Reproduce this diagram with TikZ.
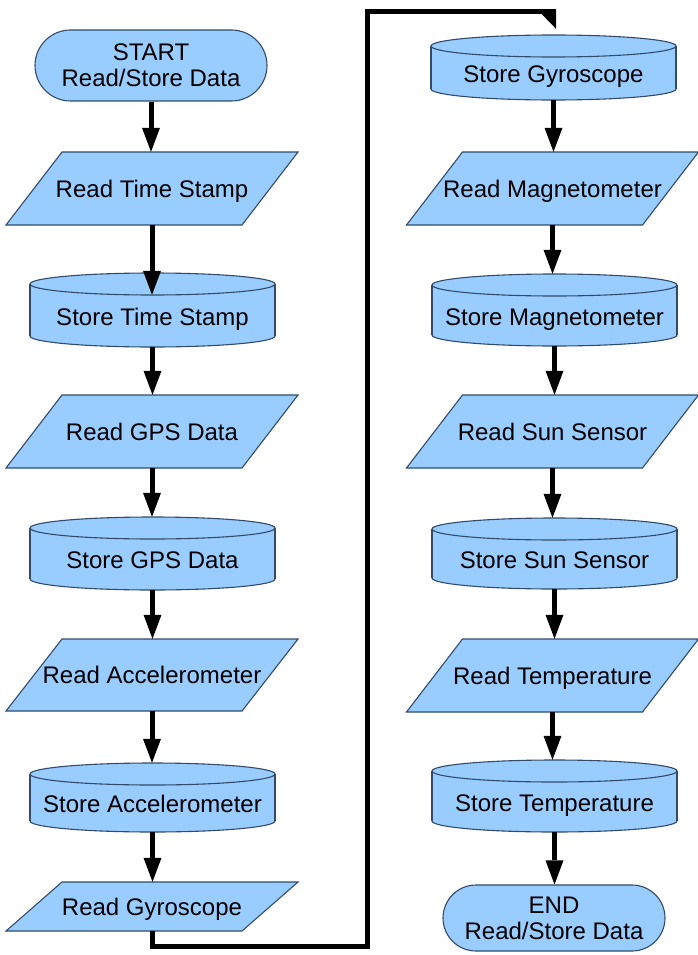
\documentclass[tikz,border=0pt]{standalone}
\usepackage{fontspec}
\setmainfont{Liberation Sans}
\usetikzlibrary{arrows.meta,shapes.misc}

\definecolor{boxfill}{RGB}{153,204,255}
\definecolor{boxline}{RGB}{50,75,105}

\tikzset{
  shapeline/.style={draw=boxline, fill=boxfill, line width=1.1pt},
  labeltext/.style={inner sep=0pt, text=black, font=\fontsize{24}{26}\selectfont},
  readtext/.style={labeltext, text height=17pt, text depth=0pt},
  storetext/.style={labeltext, text height=30pt, text depth=0pt},
  terminal/.style={rounded rectangle, shapeline, labeltext, align=center},
  arr/.style={line width=5pt, -{Triangle[width=18pt,length=24pt,line width=0pt]}},
  loopline/.style={line width=5pt}
}

% Input/output step: parallelogram 236pt wide with a 56pt slant
% #1 name, #2 centre x, #3 centre y, #4 height, #5 text
\newcommand\ioshape[5]{%
  \filldraw[shapeline] ({#2-90},{#3-#4/2}) -- ({#2+146},{#3-#4/2})
    -- ({#2+90},{#3+#4/2}) -- ({#2-146},{#3+#4/2}) -- cycle;
  \node[readtext, minimum width=236pt, minimum height=#4pt] (#1) at (#2,#3) {#5};}

% Storage step: upright cylinder 245pt wide
% #1 name, #2 centre x, #3 top y, #4 bottom y, #5 text
\newcommand\storeshape[5]{%
  \filldraw[shapeline] (#2,{#4-11}) ellipse [x radius=122.5pt, y radius=11pt];
  \fill[boxfill] ({#2-122.5},{#3+11}) rectangle ({#2+122.5},{#4-11});
  \draw[shapeline, fill=none] ({#2-122.5},{#3+11}) -- ({#2-122.5},{#4-11})
    ({#2+122.5},{#3+11}) -- ({#2+122.5},{#4-11});
  \filldraw[shapeline] (#2,{#3+11}) ellipse [x radius=122.5pt, y radius=11pt];
  \pgfmathsetmacro\cylheight{#4-#3}%
  \pgfmathsetmacro\cylmid{(#3+#4)/2}%
  \node[storetext, minimum width=245pt, minimum height=\cylheight pt]
    (#1) at (#2,\cylmid) {#5};}

\begin{document}
\begin{tikzpicture}[x=1pt,y=-1pt]
  \fill[white] (0,0) rectangle (697,955);
  \useasboundingbox (0,0) rectangle (697,955);

  % left column
  \node[terminal, minimum width=232pt, minimum height=71pt] (start) at (151,65.5)
    {START\\Read/Store Data};
  \ioshape{rts}{152}{188.5}{73}{Read Time Stamp}
  \storeshape{sts}{152.5}{273}{347}{Store Time Stamp}
  \ioshape{rgps}{152}{431.5}{73}{Read GPS Data}
  \storeshape{sgps}{152.5}{517}{590}{Store GPS Data}
  \ioshape{racc}{152}{675}{72}{Read Accelerometer}
  \storeshape{sacc}{152.5}{763}{832}{Store Accelerometer}
  \ioshape{rgyro}{152}{906.5}{49}{Read Gyroscope}

  % right column
  \storeshape{sgyro}{553.5}{35}{100}{Store Gyroscope}
  \ioshape{rmag}{552.5}{188.5}{73}{Read Magnetometer}
  \storeshape{smag}{554.5}{274}{346}{Store Magnetometer}
  \ioshape{rsun}{552.5}{431.5}{73}{Read Sun Sensor}
  \storeshape{ssun}{554.5}{518}{589}{Store Sun Sensor}
  \ioshape{rtemp}{552.5}{675.5}{73}{Read Temperature}
  \storeshape{stemp}{554.5}{760}{832}{Store Temperature}
  \node[terminal, minimum width=222pt, minimum height=66pt] (end) at (554,918)
    {END\\Read/Store Data};

  % flow arrows
  \coordinate (stsrim) at ([yshift=-22pt]sts.north);
  \draw[arr] (start.south) -- (start.south |- rts.north);
  \draw[arr] (rts.south) -- (rts.south |- stsrim);
  \draw[arr] (sts.south) -- (sts.south |- rgps.north);
  \draw[arr] (rgps.south) -- (rgps.south |- sgps.north);
  \draw[arr] (sgps.south) -- (sgps.south |- racc.north);
  \draw[arr] (racc.south) -- (racc.south |- sacc.north);
  \draw[arr] (sacc.south) -- (sacc.south |- rgyro.north);

  % return line from the left column to the top of the right column,
  % closed by a half arrowhead
  \coordinate (loopA) at (367,946);
  \coordinate (loopB) at (367,12);
  \coordinate (gyrotip) at ([yshift=13pt]sgyro.north);
  \draw[loopline] (rgyro.south) |- (loopA) -- (loopB) -| (gyrotip);
  \fill[black] ([xshift=2.5pt,yshift=-7pt]gyrotip) -- ([xshift=-15pt,yshift=11pt]gyrotip)
    -- ([xshift=2.5pt,yshift=12.5pt]gyrotip) -- cycle;

  \draw[arr] (sgyro.south) -- (sgyro.south |- rmag.north);
  \draw[arr] (rmag.south) -- (rmag.south |- smag.north);
  \draw[arr] (smag.south) -- (smag.south |- rsun.north);
  \draw[arr] (rsun.south) -- (rsun.south |- ssun.north);
  \draw[arr] (ssun.south) -- (ssun.south |- rtemp.north);
  \draw[arr] (rtemp.south) -- (rtemp.south |- stemp.north);
  \draw[arr] (stemp.south) -- (stemp.south |- end.north);
\end{tikzpicture}
\end{document}
